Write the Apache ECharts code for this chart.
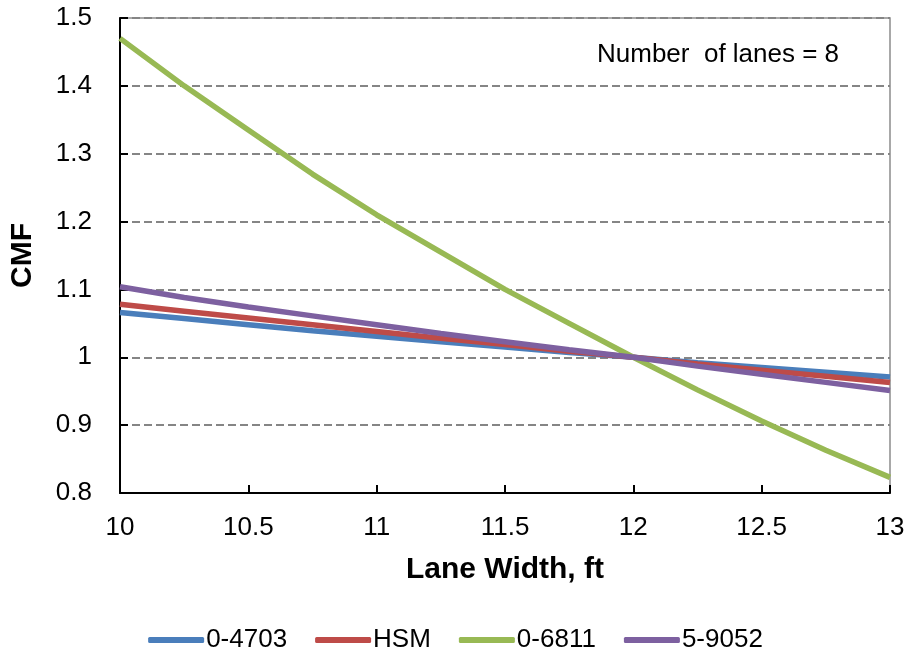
<!DOCTYPE html>
<html>
<head>
<meta charset="utf-8">
<script src="https://cdn.jsdelivr.net/npm/echarts@6/dist/echarts.min.js"></script>
<style>
  html, body { margin: 0; padding: 0; background: #fff; }
  #chart { width: 911px; height: 659px; }
</style>
</head>
<body>
<div id="chart"></div>
<script>
// Lane width (ft) and crash modification factors for each source
const laneWidth = [10, 10.25, 10.5, 10.75, 11, 11.25, 11.5, 11.75, 12, 12.25, 12.5, 12.75, 13];
const cmf4703 = [1.066, 1.057, 1.048, 1.039, 1.031, 1.023, 1.015, 1.007, 1.0, 0.992, 0.985, 0.978, 0.971];
const cmfHSM  = [1.078, 1.068, 1.058, 1.048, 1.038, 1.028, 1.019, 1.009, 1.0, 0.990, 0.981, 0.972, 0.963];
const cmf6811 = [1.47, 1.40, 1.335, 1.27, 1.21, 1.155, 1.10, 1.05, 1.0, 0.952, 0.906, 0.863, 0.823];
const cmf9052 = [1.104, 1.088, 1.074, 1.061, 1.048, 1.035, 1.023, 1.011, 1.0, 0.987, 0.975, 0.963, 0.951];

const seriesNames = ['0-4703', 'HSM', '0-6811', '5-9052'];
const seriesValues = [cmf4703, cmfHSM, cmf6811, cmf9052];
const seriesColors = ['#4A7EBB', '#BE4B48', '#98B954', '#7D60A0'];

const font = 'Liberation Sans, Arial, sans-serif';

const chart = echarts.init(document.getElementById('chart'));

chart.setOption({
  animation: false,
  backgroundColor: '#fff',
  grid: {
    left: 119, right: 21, top: 18, bottom: 166,
    show: true, borderColor: '#8c8c8c', borderWidth: 1.5
  },
  xAxis: {
    type: 'value', min: 10, max: 13, interval: 0.5,
    name: 'Lane Width, ft', nameLocation: 'middle', nameGap: 62,
    nameTextStyle: { fontFamily: font, fontSize: 30, fontWeight: 'bold', color: '#000' },
    axisLine: { lineStyle: { color: '#000', width: 2 } },
    axisTick: { inside: true, length: 8, lineStyle: { color: '#000', width: 2 } },
    axisLabel: { fontFamily: font, fontSize: 26, color: '#000', margin: 22 },
    splitLine: { show: false }
  },
  yAxis: {
    type: 'value', min: 0.8, max: 1.5, interval: 0.1,
    name: 'CMF', nameLocation: 'middle', nameGap: 82, nameRotate: 90,
    nameTextStyle: { fontFamily: font, fontSize: 30, fontWeight: 'bold', color: '#000' },
    axisLine: { show: true, lineStyle: { color: '#000', width: 2 } },
    axisTick: { show: true, inside: true, length: 8, lineStyle: { color: '#000', width: 2 } },
    axisLabel: {
      fontFamily: font, fontSize: 26, color: '#000', margin: 28,
      formatter: v => String(Math.round(v * 10) / 10)
    },
    splitLine: { lineStyle: { color: '#858585', type: [8, 4], width: 1.8 } }
  },
  legend: {
    bottom: 1, left: 'center',
    itemWidth: 56, itemHeight: 6, itemGap: 28,
    icon: 'roundRect',
    textStyle: { fontFamily: font, fontSize: 26, color: '#000', padding: [0, 0, 0, -3] },
    data: seriesNames
  },
  graphic: [{
    type: 'text', left: 597, top: 42,
    style: { text: 'Number  of lanes = 8', font: '26px ' + font, fill: '#000' }
  }],
  series: seriesNames.map((name, i) => ({
    name: name,
    type: 'line',
    data: laneWidth.map((w, j) => [w, seriesValues[i][j]]),
    showSymbol: false,
    smooth: false,
    color: seriesColors[i],
    lineStyle: { width: 5.5, color: seriesColors[i] }
  }))
});
</script>
</body>
</html>
